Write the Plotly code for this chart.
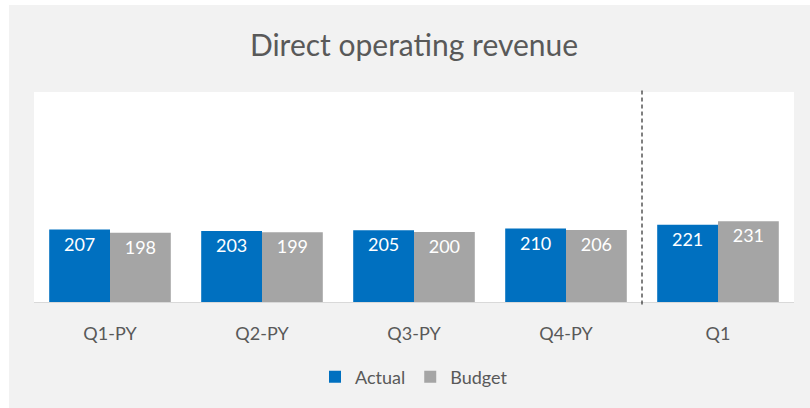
import plotly.graph_objects as go

categories = ["Q1-PY", "Q2-PY", "Q3-PY", "Q4-PY", "Q1"]
actual = [207, 203, 205, 210, 221]
budget = [198, 199, 200, 206, 231]

FONT = "Lato"
TXT = "#595959"

fig = go.Figure()
fig.add_trace(go.Bar(
    name="Actual", x=categories, y=actual, marker=dict(color="#0070c0", line=dict(width=0)),
    text=actual, textposition="inside", insidetextanchor="end",
    textfont=dict(color="white", size=18, family=FONT),
))
fig.add_trace(go.Bar(
    name="Budget", x=categories, y=budget, marker=dict(color="#a5a5a5", line=dict(width=0)),
    text=budget, textposition="inside", insidetextanchor="end",
    textfont=dict(color="white", size=18, family=FONT),
))

W, H = 810, 408
ml, mr, mt, mb = 34, 16, 92, 106
pw, ph = W - ml - mr, H - mt - mb

shapes = [
    # dashed separator between prior year and current year
    dict(type="line", xref="x", yref="paper", x0=3.5, x1=3.5, y0=-0.012, y1=1.01,
         line=dict(color="black", width=1, dash="4px,3px")),
    # white outer borders (left and top)
    dict(type="rect", xref="paper", yref="paper", x0=-ml / pw, x1=-(ml - 9) / pw,
         y0=-mb / ph, y1=1 + mt / ph, fillcolor="white", line=dict(width=0), layer="below"),
    dict(type="rect", xref="paper", yref="paper", x0=-ml / pw, x1=1 + mr / pw,
         y0=1 + (mt - 5) / ph, y1=1 + mt / ph, fillcolor="white", line=dict(width=0), layer="below"),
]

fig.update_layout(
    width=W, height=H,
    margin=dict(l=ml, r=mr, t=mt, b=mb),
    paper_bgcolor="#f2f2f2", plot_bgcolor="white",
    barmode="group", bargap=0.2, bargroupgap=0,
    title=dict(text="Direct operating revenue", x=(ml + pw / 2) / W, xanchor="center",
               y=1 - 45 / H, yanchor="middle",
               font=dict(family=FONT, size=30, color=TXT)),
    xaxis=dict(showline=True, linecolor="#d9d9d9", linewidth=1, ticks="",
               tickfont=dict(family=FONT, size=18, color=TXT), ticklabelstandoff=15,
               showgrid=False),
    yaxis=dict(range=[0, 600], showticklabels=False, showgrid=False, zeroline=False,
               showline=False, ticks=""),
    legend=dict(orientation="h", x=(414 - ml) / pw, xanchor="center", y=(302 - 377) / ph,
                yanchor="middle", font=dict(family=FONT, size=18, color=TXT),
                itemwidth=30, tracegroupgap=0, bgcolor="rgba(0,0,0,0)"),
    shapes=shapes,
    uniformtext=dict(mode="show", minsize=8),
)

fig.write_html("out.html", config={"displayModeBar": False},
               post_script="document.body.style.margin='0';document.body.style.padding='0';")
